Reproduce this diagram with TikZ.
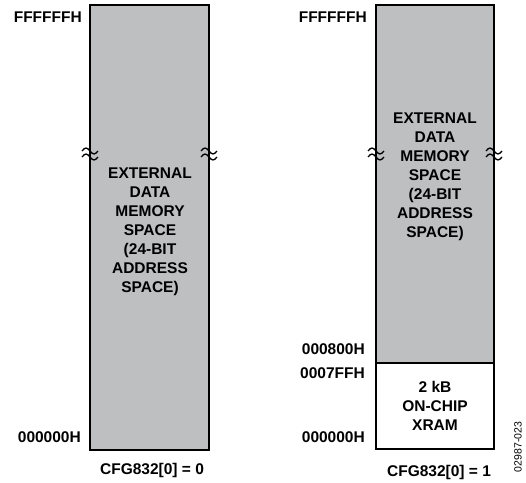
\documentclass[tikz,border=0pt]{standalone}
\usepackage{fontspec}
\setmainfont{Liberation Sans}
\definecolor{memgray}{RGB}{190,191,193}

\tikzset{
  addr/.style={font=\fontsize{15.5}{19}\selectfont\bfseries,anchor=east,inner sep=0pt},
  memtext/.style={font=\fontsize{15.5}{19}\selectfont\bfseries,align=center,inner sep=0pt},
  membox/.style={draw=black,line width=1.5pt},
  breakmark/.pic={
    \draw[line width=1.3pt] (-8,-3) sin (-4,-6) cos (0,-3) sin (4,0) cos (8,-3);
    \draw[line width=1.3pt] (-8,3) sin (-4,0) cos (0,3) sin (4,6) cos (8,3);
  }
}

\begin{document}
\begin{tikzpicture}[x=1pt,y=-1pt]
    \useasboundingbox (0,0) rectangle (526,482);

    % left map
    \filldraw[membox,fill=memgray] (90,5) rectangle (209,450);
    \pic at (90,154) {breakmark};
    \pic at (209,154) {breakmark};
    \node[memtext] (extL) at (150,232) {EXTERNAL\\DATA\\MEMORY\\SPACE\\(24-BIT\\ADDRESS\\SPACE)};
    \node[addr] (topL) at (82,17) {FFFFFFH};
    \node[addr] (botL) at (81,437) {000000H};
    \node[memtext] (cfgL) at (152,470) {CFG832[0] = 0};

    % right map
    \filldraw[membox,fill=memgray] (376,5) rectangle (494,363);
    \filldraw[membox,fill=white] (376,363) rectangle (494,449);
    \pic at (376,154) {breakmark};
    \pic at (494,154) {breakmark};
    \node[memtext] (extR) at (435,177) {EXTERNAL\\DATA\\MEMORY\\SPACE\\(24-BIT\\ADDRESS\\SPACE)};
    \node[memtext] (xram) at (435,406) {2 kB\\ON-CHIP\\XRAM};
    \node[addr] (topR) at (367,17) {FFFFFFH};
    \node[addr] (midR) at (365,349) {000800H};
    \node[addr] (limR) at (365,373) {0007FFH};
    \node[addr] (botR) at (365,437) {000000H};
    \node[memtext] (cfgR) at (439,472) {CFG832[0] = 1};

    % figure number
    \node[rotate=90,font=\fontsize{10.5}{12}\selectfont,inner sep=0pt] (fig) at (518,447) {02987-023};
\end{tikzpicture}
\end{document}
